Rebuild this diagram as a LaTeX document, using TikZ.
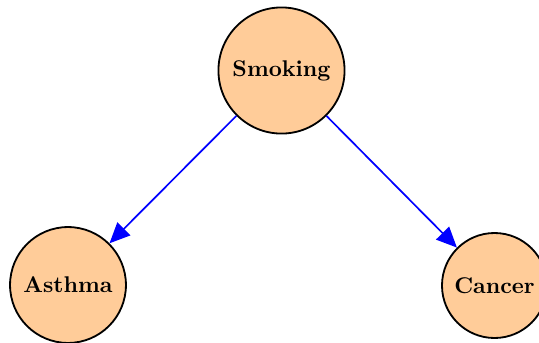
\documentclass[tikz,border=0pt]{standalone}
\usetikzlibrary{arrows.meta}
\definecolor{peach}{RGB}{255,204,153}
\begin{document}
\begin{tikzpicture}[x=0.44pt,y=-0.44pt,
  var/.style={circle,draw=black,fill=peach,line width=0.8pt,inner sep=0pt,font=\bfseries},
  edge/.style={draw=blue,line width=0.75pt,-{Triangle[length=9pt,width=8pt]}}]
\useasboundingbox (0,0) rectangle (539,343);
\node[var,minimum size=55.5pt] (smoking) at (281.5,70.5) {Smoking};
\node[var,minimum size=51pt] (asthma) at (68,285) {Asthma};
\node[var,minimum size=46.2pt] (cancer) at (494.5,285.5) {Cancer};
\draw[edge] (smoking) -- (asthma);
\draw[edge] (smoking) -- (cancer);
\end{tikzpicture}
\end{document}
